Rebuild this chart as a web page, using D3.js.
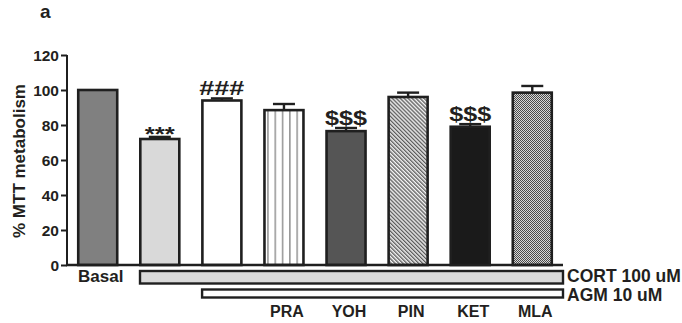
<!DOCTYPE html>
<html>
<head>
<meta charset="utf-8">
<script src="https://cdn.jsdelivr.net/npm/d3@7"></script>
<style>
  html, body { margin: 0; padding: 0; background: #fff; }
  svg { display: block; }
  text { font-family: "Liberation Sans", Arial, sans-serif; font-weight: bold; fill: #231f20; }
</style>
</head>
<body>
<svg id="chart" width="682" height="323"></svg>
<script>
// Groups, mean % MTT metabolism and SEM
const groups = ["Basal", "CORT", "CORT+AGM", "PRA", "YOH", "PIN", "KET", "MLA"];
const means = [100, 72, 94, 88.5, 76.5, 96, 79, 98.5];
const sems = [0, 1.2, 1.2, 3.5, 1.8, 2.5, 1.5, 3.8];
const signif = ["", "***", "###", "", "$$$", "", "$$$", ""];
const xLabels = ["Basal", "", "", "PRA", "YOH", "PIN", "KET", "MLA"];
const yTicks = [0, 20, 40, 60, 80, 100, 120];
const treatments = [
  { label: "CORT 100 uM", from: "CORT" },
  { label: "AGM 10 uM", from: "CORT+AGM" }
];

const ink = "#1f1f1f";
const fills = ["#808080", "#d9d9d9", "#ffffff", "url(#pVert)", "#555555", "url(#pDiag)", "#1a1a1a", "url(#pCheck)"];

const svg = d3.select("#chart");

const x = d3.scaleBand().domain(groups).range([67, 563]).paddingInner(0.33).paddingOuter(0.16);
const y = d3.scaleLinear().domain([0, 120]).range([265, 55]);

// Fill patterns
const defs = svg.append("defs");
const pv = defs.append("pattern").attr("id", "pVert").attr("patternUnits", "userSpaceOnUse")
  .attr("width", 7.3).attr("height", 10).attr("x", x("PRA") + 4);
pv.append("rect").attr("width", 7.3).attr("height", 10).attr("fill", "#fff");
pv.append("line").attr("x1", 0.8).attr("x2", 0.8).attr("y1", 0).attr("y2", 10)
  .attr("stroke", "#8a8a8a").attr("stroke-width", 1.4);

const pd = defs.append("pattern").attr("id", "pDiag").attr("patternUnits", "userSpaceOnUse")
  .attr("width", 2.8).attr("height", 6).attr("patternTransform", "rotate(-45)");
pd.append("rect").attr("width", 2.8).attr("height", 6).attr("fill", "#f4f4f4");
pd.append("line").attr("x1", 0.7).attr("x2", 0.7).attr("y1", 0).attr("y2", 6)
  .attr("stroke", "#4a4a4a").attr("stroke-width", 1.2);

const pc = defs.append("pattern").attr("id", "pCheck").attr("patternUnits", "userSpaceOnUse")
  .attr("width", 2).attr("height", 2);
pc.append("rect").attr("width", 2).attr("height", 2).attr("fill", "#d8d8d8");
pc.append("rect").attr("width", 1).attr("height", 1).attr("fill", "#4a4a4a");
pc.append("rect").attr("x", 1).attr("y", 1).attr("width", 1).attr("height", 1).attr("fill", "#4a4a4a");

const sw = 2.6;

// Error bars (drawn first so the bar outline sits over the stem base)
const err = svg.append("g").attr("stroke", ink).attr("stroke-width", 2.4);
groups.forEach((g, i) => {
  if (!sems[i]) return;
  const cx = x(g) + x.bandwidth() / 2;
  err.append("line").attr("x1", cx).attr("x2", cx).attr("y1", y(means[i])).attr("y2", y(means[i] + sems[i]));
  err.append("line").attr("x1", cx - 11).attr("x2", cx + 11).attr("y1", y(means[i] + sems[i])).attr("y2", y(means[i] + sems[i]));
});

// Bars
svg.append("g").selectAll("rect").data(groups).join("rect")
  .attr("x", d => x(d) + sw / 2)
  .attr("width", x.bandwidth() - sw)
  .attr("y", (d, i) => y(means[i]))
  .attr("height", (d, i) => y(0) - y(means[i]))
  .attr("fill", (d, i) => fills[i])
  .attr("stroke", ink).attr("stroke-width", sw);

// Axes
const yAxis = svg.append("g").attr("transform", "translate(67,0)")
  .call(d3.axisLeft(y).tickValues(yTicks).tickSize(6).tickPadding(2));
yAxis.select(".domain").attr("stroke", ink).attr("stroke-width", 2).attr("d", "M0,55V265");
yAxis.selectAll(".tick line").attr("stroke", ink).attr("stroke-width", 2);
yAxis.selectAll(".tick text").attr("font-size", 15.5).attr("font-family", "Liberation Sans, Arial, sans-serif")
  .attr("font-weight", "bold").attr("fill", "#231f20").attr("dy", "0.36em");

svg.append("line").attr("x1", 66).attr("x2", 563).attr("y1", y(0)).attr("y2", y(0))
  .attr("stroke", ink).attr("stroke-width", 2.4);

// Significance marks
groups.forEach((g, i) => {
  if (!signif[i]) return;
  const cx = x(g) + x.bandwidth() / 2;
  const top = y(means[i] + sems[i]);
  const star = signif[i] === "***";
  svg.append("text").attr("x", cx).attr("y", star ? top + 4 : top - 3)
    .attr("text-anchor", "middle").attr("font-size", star ? 21 : 20)
    .attr("textLength", star ? 30 : (signif[i] === "###" ? 45 : 42)).attr("lengthAdjust", "spacingAndGlyphs")
    .text(signif[i]);
});

// Category labels under the axis
groups.forEach((g, i) => {
  if (!xLabels[i]) return;
  const cx = x(g) + x.bandwidth() / 2 + 3;
  svg.append("text").attr("x", cx).attr("y", i === 0 ? 282 : 317)
    .attr("text-anchor", "middle").attr("font-size", i === 0 ? 17 : 16)
    .text(xLabels[i]);
});

// Treatment bars
treatments.forEach((t, k) => {
  const x0 = x(t.from);
  const yTop = k === 0 ? 271 : 289.5;
  const h = k === 0 ? 12.5 : 8;
  svg.append("rect").attr("x", x0 + 1).attr("y", yTop).attr("width", 563 - x0 - 1).attr("height", h)
    .attr("fill", k === 0 ? "#d9d9d9" : "#ffffff").attr("stroke", ink).attr("stroke-width", 2.4);
  svg.append("text").attr("x", 567).attr("y", k === 0 ? 282 : 301).attr("font-size", 17.5)
    .text(t.label);
});

// Y axis title
svg.append("text").attr("transform", "translate(25,161) rotate(-90)")
  .attr("text-anchor", "middle").attr("font-size", 17).text("% MTT metabolism");

// Panel letter
svg.append("text").attr("x", 40).attr("y", 18).attr("font-size", 19).text("a");
</script>
</body>
</html>
